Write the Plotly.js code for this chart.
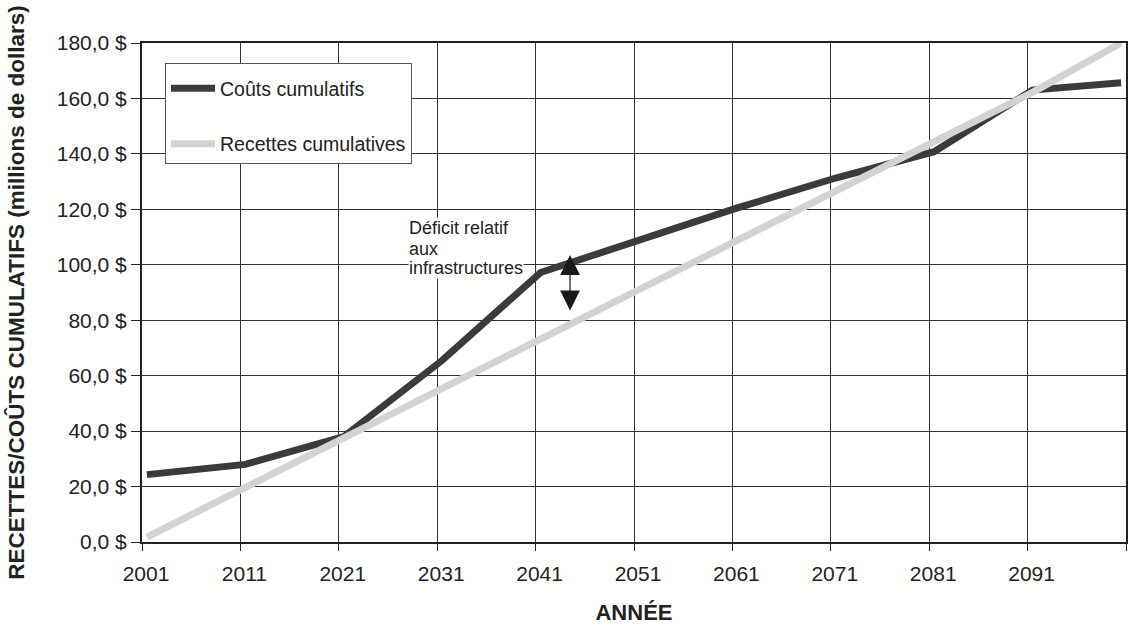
<!DOCTYPE html>
<html>
<head>
<meta charset="utf-8">
<script src="https://cdn.plot.ly/plotly-3.0.1.min.js"></script>
<style>
html,body{margin:0;padding:0;background:#fff;}
#chart{width:1130px;height:625px;}
</style>
</head>
<body>
<div id="chart"></div>
<script>
// Data
var years = [2001, 2011, 2021, 2031, 2041, 2051, 2061, 2071, 2081, 2091, 2100];
var coutsCumulatifs = [24.3, 28.0, 38.0, 65.5, 97.2, 109.0, 120.5, 131.3, 140.8, 163.0, 165.7];
var recettesCumulatives = [1.8, 19.8, 37.6, 55.4, 73.2, 91.0, 108.8, 126.6, 144.4, 162.2, 180.0];
var xTickVals = [2001, 2011, 2021, 2031, 2041, 2051, 2061, 2071, 2081, 2091, 2101];
var xTickLabels = ['2001', '2011', '2021', '2031', '2041', '2051', '2061', '2071', '2081', '2091', ''];
var yTickVals = [0, 20, 40, 60, 80, 100, 120, 140, 160, 180];
var yTickLabels = ['0,0 $', '20,0 $', '40,0 $', '60,0 $', '80,0 $', '100,0 $', '120,0 $', '140,0 $', '160,0 $', '180,0 $'];
var seriesNames = ['Coûts cumulatifs', 'Recettes cumulatives'];
var noteLines = ['Déficit relatif', 'aux', 'infrastructures'];
var noteYValues = [113.3, 105.7, 98.8];
var arrowYear = 2044.5, arrowTop = 103.5, arrowBottom = 83;

// categories are centred half a year after the tick
var xPos = years.map(function (y) { return y + 0.5; });

var FONT = 'Liberation Sans, Arial, Helvetica, sans-serif';

var traces = [
  {x: xPos, y: coutsCumulatifs, name: seriesNames[0], type: 'scatter', mode: 'lines',
   line: {color: '#3b3b3b', width: 7}, legendgroup: 'a'},
  {x: xPos, y: recettesCumulatives, name: seriesNames[1], type: 'scatter', mode: 'lines',
   line: {color: '#d3d3d3', width: 7}, legendgroup: 'b'}
];

var annotations = noteLines.map(function (t, i) {
  return {text: t, xref: 'x', yref: 'y', x: 2028.0, y: noteYValues[i], xanchor: 'left', yanchor: 'middle',
          showarrow: false, bgcolor: '#ffffff', borderpad: 0, align: 'left',
          font: {family: FONT, size: 18, color: '#222'}};
});
annotations.push({
  text: '', xref: 'x', yref: 'y', axref: 'x', ayref: 'y',
  x: arrowYear, y: arrowTop, ax: arrowYear, ay: arrowBottom,
  showarrow: true, arrowside: 'end+start', arrowhead: 2, startarrowhead: 2,
  arrowsize: 3.3, startarrowsize: 3.3, arrowwidth: 1.2, arrowcolor: '#1a1a1a',
  standoff: 0, startstandoff: 0
});

var layout = {
  width: 1130, height: 625,
  margin: {l: 142, r: 4, t: 43, b: 83},
  paper_bgcolor: '#ffffff', plot_bgcolor: '#ffffff',
  font: {family: FONT, color: '#222'},
  showlegend: true,
  legend: {
    x: 0.0234, y: 0.96, xanchor: 'left', yanchor: 'top',
    bgcolor: '#ffffff', bordercolor: '#555', borderwidth: 1,
    font: {family: FONT, size: 19.5, color: '#222'},
    title: {text: ' ', font: {family: FONT, size: 4}},
    tracegroupgap: 27, itemwidth: 44
  },
  xaxis: {
    range: [2001, 2101], tickmode: 'array', tickvals: xTickVals, ticktext: xTickLabels,
    showgrid: true, gridcolor: '#333', gridwidth: 1, zeroline: false,
    showline: true, linecolor: '#222', linewidth: 2, mirror: true,
    ticks: 'outside', ticklen: 7, tickwidth: 1, tickcolor: '#222',
    tickfont: {family: FONT, size: 21, color: '#222'}, ticklabelshift: 4, ticklabelstandoff: 5,
    title: {text: '<b>ANNÉE</b>', font: {family: FONT, size: 22, color: '#222'}, standoff: 20},
    automargin: false, fixedrange: true
  },
  yaxis: {
    range: [0, 180], tickmode: 'array', tickvals: yTickVals, ticktext: yTickLabels,
    showgrid: true, gridcolor: '#333', gridwidth: 1, zeroline: false,
    showline: true, linecolor: '#222', linewidth: 2, mirror: true,
    ticks: 'outside', ticklen: 9, tickwidth: 1, tickcolor: '#222',
    tickfont: {family: FONT, size: 21, color: '#222'},
    title: {text: '<b>RECETTES/COÛTS CUMULATIFS (millions de dollars)</b>', font: {family: FONT, size: 22.5, color: '#222'}, standoff: 26},
    automargin: false, fixedrange: true
  },
  annotations: annotations
};

Plotly.newPlot('chart', traces, layout, {displayModeBar: false, staticPlot: true});
</script>
</body>
</html>
